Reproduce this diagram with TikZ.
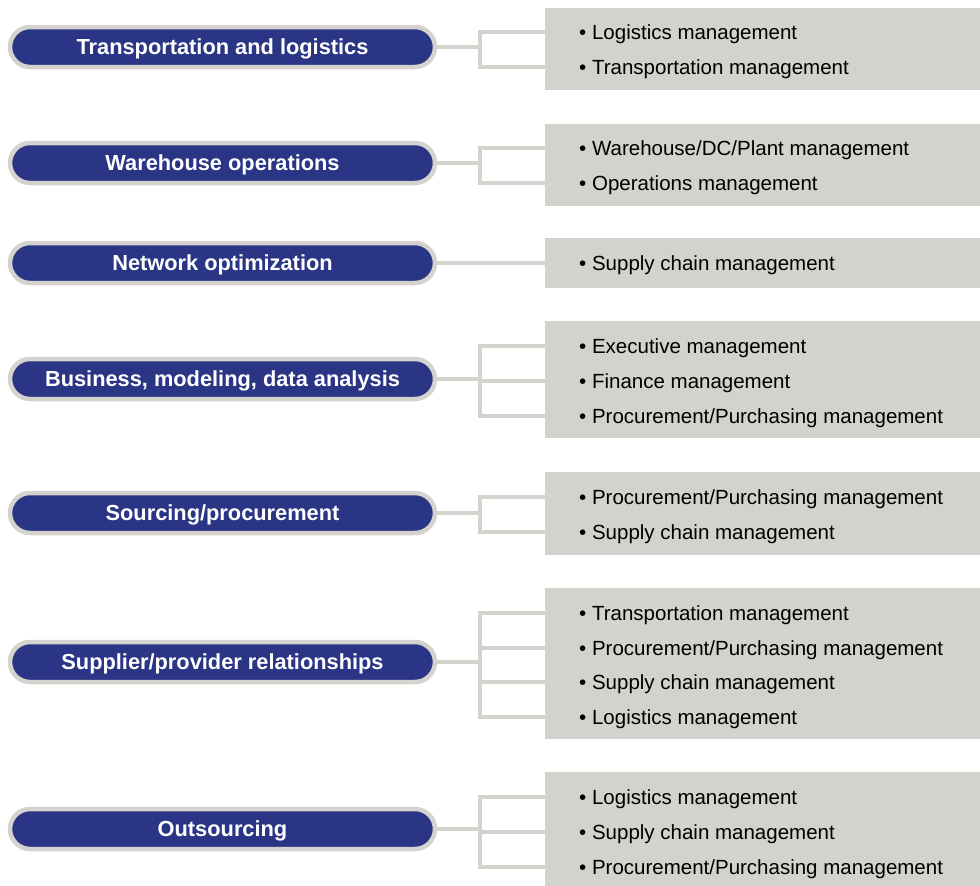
\documentclass[tikz,border=0pt]{standalone}
\usepackage{fontspec}
\setmainfont{Liberation Sans}
\definecolor{navy}{HTML}{2B3585}
\definecolor{rim}{HTML}{D4D3CE}
\definecolor{panel}{HTML}{D3D2CD}
\tikzset{
  pill/.style={draw=rim, line width=4.5pt, fill=navy, rounded corners=20pt,
    minimum width=425pt, minimum height=40pt, inner sep=0pt,
    text height=15.6pt, text depth=0pt,
    text=white, font=\fontsize{21.8}{26}\selectfont\bfseries},
  item/.style={anchor=west, inner sep=0pt, text height=14.6pt, text depth=0pt,
    font=\fontsize{20.5}{24}\selectfont, text=black},
  link/.style={draw=rim, line width=4pt}
}
\begin{document}
\begin{tikzpicture}[x=1pt,y=-1pt]
\useasboundingbox (0,0) rectangle (980,886);
\fill[white] (0,0) rectangle (980,886);

% grey panels on the right
\path[fill=panel] (545,8) rectangle (980,90);
\path[fill=panel] (545,124) rectangle (980,206);
\path[fill=panel] (545,238) rectangle (980,288);
\path[fill=panel] (545,321) rectangle (980,438);
\path[fill=panel] (545,472) rectangle (980,555);
\path[fill=panel] (545,588) rectangle (980,739);
\path[fill=panel] (545,772) rectangle (980,886);

% category pills
\node[pill] (p1) at (222.5,47) {Transportation and logistics};
\node[pill] (p2) at (222.5,163) {Warehouse operations};
\node[pill] (p3) at (222.5,263) {Network optimization};
\node[pill] (p4) at (222.5,379) {Business, modeling, data analysis};
\node[pill] (p5) at (222.5,513) {Sourcing/procurement};
\node[pill] (p6) at (222.5,662) {Supplier/provider relationships};
\node[pill] (p7) at (222.5,829) {Outsourcing};

% bullet items
\node[item] (a1) at (579,32) {• Logistics management};
\node[item] (a2) at (579,67) {• Transportation management};
\node[item] (b1) at (579,148) {• Warehouse/DC/Plant management};
\node[item] (b2) at (579,183) {• Operations management};
\node[item] (c1) at (579,263) {• Supply chain management};
\node[item] (d1) at (579,346) {• Executive management};
\node[item] (d2) at (579,381) {• Finance management};
\node[item] (d3) at (579,416) {• Procurement/Purchasing management};
\node[item] (e1) at (579,497) {• Procurement/Purchasing management};
\node[item] (e2) at (579,532) {• Supply chain management};
\node[item] (f1) at (579,613) {• Transportation management};
\node[item] (f2) at (579,648) {• Procurement/Purchasing management};
\node[item] (f3) at (579,682) {• Supply chain management};
\node[item] (f4) at (579,717) {• Logistics management};
\node[item] (g1) at (579,797) {• Logistics management};
\node[item] (g2) at (579,832) {• Supply chain management};
\node[item] (g3) at (579,867) {• Procurement/Purchasing management};

% branch points
\coordinate (j1) at (480,47);
\coordinate (j2) at (480,163);
\coordinate (j4) at (480,379);
\coordinate (j5) at (480,513);
\coordinate (j6) at (480,662);
\coordinate (j7) at (480,829);

% connectors
\begin{scope}[link]
\draw (p1.east) -- (j1);
\draw[line cap=rect] (545,32) -- (j1 |- a1) -- (j1 |- a2) -- (545,67);
\draw (p2.east) -- (j2);
\draw[line cap=rect] (545,148) -- (j2 |- b1) -- (j2 |- b2) -- (545,183);
\draw (p3.east) -- (545,263);
\draw (p4.east) -- (j4);
\draw[line cap=rect] (545,346) -- (j4 |- d1) -- (j4 |- d3) -- (545,416);
\draw (j4 |- d2) -- (545,381);
\draw (p5.east) -- (j5);
\draw[line cap=rect] (545,497) -- (j5 |- e1) -- (j5 |- e2) -- (545,532);
\draw (p6.east) -- (j6);
\draw[line cap=rect] (545,613) -- (j6 |- f1) -- (j6 |- f4) -- (545,717);
\draw (j6 |- f2) -- (545,648);
\draw (j6 |- f3) -- (545,682);
\draw (p7.east) -- (j7);
\draw[line cap=rect] (545,797) -- (j7 |- g1) -- (j7 |- g3) -- (545,867);
\draw (j7 |- g2) -- (545,832);
\end{scope}
\end{tikzpicture}
\end{document}
